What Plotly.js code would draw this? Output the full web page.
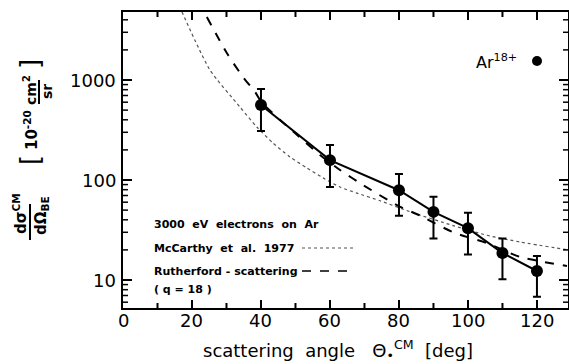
<!DOCTYPE html>
<html><head><meta charset="utf-8">
<script src="https://cdn.plot.ly/plotly-3.0.1.min.js"></script>
<style>html,body{margin:0;padding:0;background:#fff}#c{width:569px;height:364px}</style>
</head><body><div id="c"></div>
<script>
// Measured data (Ar18+)
const angles = [40, 60, 80, 90, 100, 110, 120];
const crossSection = [562, 158, 79, 48, 33, 18.6, 12.3];
const errPlus = [251, 66, 36, 20, 14, 7.4, 5.1];
const errMinus = [253, 73, 35, 22, 15, 8.4, 5.5];

// Rutherford scattering (q = 18)
const rutherfordAngles = [24.3, 30.1, 34.8, 38.3, 40.3, 49.6, 57.1, 62.9, 69.6, 79.4, 86.1, 95.7, 105.5, 115.1, 128.7];
const rutherfordValues = [4270, 1860, 1070, 760, 590, 300, 178, 126, 89, 56, 44, 30, 23.4, 17, 13.8];

// McCarthy et al. 1977
const mccarthyAngles = [17.1, 25.2, 33.9, 38.8, 43.5, 48.4, 53.3, 58.0, 62.9, 67.8, 74.5, 84.1, 95.7, 105.5, 115.1, 129];
const mccarthyValues = [4790, 1260, 537, 339, 234, 170, 132, 105, 85, 74, 62, 47, 35, 28, 24, 20];

// Tick labels
const xTickValues = [0, 20, 40, 60, 80, 100, 120];
const xMinorTicks = [10, 30, 50, 70, 90, 110];
const yTickValues = [10, 100, 1000];
const yTickLabels = ['10', '100', '1000'];
const yMinorFactors = [2, 3, 4, 5, 6, 7, 8, 9];

const L = 123, R = 1, T = 12, B = 56, W = 569, H = 364;
const PW = W - L - R, PH = H - T - B;
const px = x => (x - L) / PW;
const py = y => (H - B - y) / PH;

const FONT = 'DejaVu Sans, sans-serif';
const X_RANGE = [0, 129];
const Y_RANGE = [0.72, 3.68];

const traces = [
  {x: mccarthyAngles, y: mccarthyValues, mode: 'lines', line: {color: '#555', width: 1.2, dash: 'dot', shape: 'spline', smoothing: 0.6}, hoverinfo: 'skip'},
  {x: rutherfordAngles, y: rutherfordValues, mode: 'lines', line: {color: '#000', width: 2, dash: 'dash', shape: 'spline', smoothing: 0.6}, hoverinfo: 'skip'},
  {x: angles, y: crossSection, mode: 'lines+markers',
   line: {color: '#000', width: 2},
   marker: {color: '#000', size: 12},
   error_y: {type: 'data', symmetric: false, array: errPlus, arrayminus: errMinus, color: '#000', thickness: 2, width: 4}}
];

const ann = (x, y, text, size, opts = {}) => Object.assign({
  xref: 'paper', yref: 'paper', x: px(x), y: py(y), text, showarrow: false,
  font: {family: FONT, size, color: '#000'}, xanchor: 'center', yanchor: 'middle'
}, opts);

const annotations = [
  ann(152, 225, '<b>3000  eV  electrons  on  Ar</b>', 11, {xanchor: 'left'}),
  ann(152, 248, '<b>McCarthy  et  al.  1977</b>', 11, {xanchor: 'left'}),
  ann(152, 271, '<b>Rutherford - scattering</b>', 11, {xanchor: 'left'}),
  ann(152, 289, '<b>( q = 18 )</b>', 11, {xanchor: 'left'}),
  ann(474, 61, 'Ar<sup>18+</sup>', 16, {xanchor: 'left'}),
  ann(338, 350, 'scattering  angle   Θ<sub>•</sub><sup>CM</sup>  [deg]', 18),
  ann(20, 214, '<b>dσ<sup>CM</sup></b>', 15, {textangle: -90}),
  ann(41, 216, '<b>dΩ<sub>BE</sub></b>', 15, {textangle: -90}),
  ann(30, 160, '[', 26, {textangle: -90}),
  ann(31, 130, '<b>10<sup>-20</sup></b>', 15, {textangle: -90}),
  ann(30, 90, '<b>cm<sup>2</sup></b>', 14, {textangle: -90}),
  ann(47, 92, '<b>sr</b>', 14, {textangle: -90}),
  ann(30, 64, ']', 26, {textangle: -90})
];
// tick labels placed through the axes' own scales
xTickValues.forEach(v => annotations.push({xref: 'x', yref: 'paper', x: v, y: py(320), text: String(v), showarrow: false,
  xanchor: 'center', yanchor: 'middle', font: {family: FONT, size: 18, color: '#000'}}));
yTickValues.forEach((v, i) => annotations.push({xref: 'paper', yref: 'y', x: px(118), y: Math.log10(v), text: yTickLabels[i], showarrow: false,
  xanchor: 'right', yanchor: 'middle', font: {family: FONT, size: 18, color: '#000'}}));

const shapes = [
  {type: 'line', xref: 'paper', yref: 'paper', x0: px(302), x1: px(353), y0: py(248), y1: py(248), line: {color: '#555', width: 1.2, dash: 'dot'}},
  {type: 'line', xref: 'paper', yref: 'paper', x0: px(302), x1: px(353), y0: py(271), y1: py(271), line: {color: '#000', width: 1.5, dash: 'dash'}},
  {type: 'line', xref: 'paper', yref: 'paper', x0: px(30), x1: px(30), y0: py(204), y1: py(240), line: {color: '#000', width: 2}},
  {type: 'line', xref: 'paper', yref: 'paper', x0: px(39), x1: px(39), y0: py(80), y1: py(104), line: {color: '#000', width: 2}},
  {type: 'circle', xref: 'paper', yref: 'paper', x0: px(532), x1: px(542), y0: py(56), y1: py(66), fillcolor: '#000', line: {color: '#000', width: 0}}
];
// minor inside tick marks (bottom/top and left/right)
const tickX = (v, len, w) => {
  shapes.push({type: 'line', xref: 'x', yref: 'paper', x0: v, x1: v, y0: 0, y1: len / PH, line: {color: '#000', width: w}});
  shapes.push({type: 'line', xref: 'x', yref: 'paper', x0: v, x1: v, y0: 1, y1: 1 - len / PH, line: {color: '#000', width: w}});
};
const yFrac = v => (Math.log10(v) - Y_RANGE[0]) / (Y_RANGE[1] - Y_RANGE[0]);
const tickY = (v, len, w) => {
  const f = yFrac(v);
  if (f < 0 || f > 1) return;
  shapes.push({type: 'line', xref: 'paper', yref: 'paper', x0: 0, x1: len / PW, y0: f, y1: f, line: {color: '#000', width: w}});
  shapes.push({type: 'line', xref: 'paper', yref: 'paper', x0: 1, x1: 1 - len / PW, y0: f, y1: f, line: {color: '#000', width: w}});
};
xMinorTicks.forEach(v => tickX(v, 5, 2));
[1, 10, 100, 1000].forEach(d => yMinorFactors.forEach(m => tickY(d * m, 5, 1.5)));

const layout = {
  width: W, height: H,
  margin: {l: L, r: R, t: T, b: B},
  paper_bgcolor: '#fff', plot_bgcolor: '#fff',
  showlegend: false,
  font: {family: FONT, color: '#000'},
  xaxis: {
    range: X_RANGE, tickmode: 'linear', tick0: 0, dtick: 20, showticklabels: false,
    ticks: 'inside', ticklen: 8, tickwidth: 2, tickcolor: '#000',
    showline: true, linewidth: 2, linecolor: '#000', mirror: 'ticks',
    showgrid: false, zeroline: false
  },
  yaxis: {
    type: 'log', range: Y_RANGE, tickmode: 'linear', tick0: 0, dtick: 1, showticklabels: false,
    ticks: 'inside', ticklen: 9, tickwidth: 2, tickcolor: '#000',
    showline: true, linewidth: 2, linecolor: '#000', mirror: 'ticks',
    showgrid: false, zeroline: false
  },
  annotations, shapes
};

Plotly.newPlot('c', traces, layout, {staticPlot: true, displayModeBar: false});
</script></body></html>
